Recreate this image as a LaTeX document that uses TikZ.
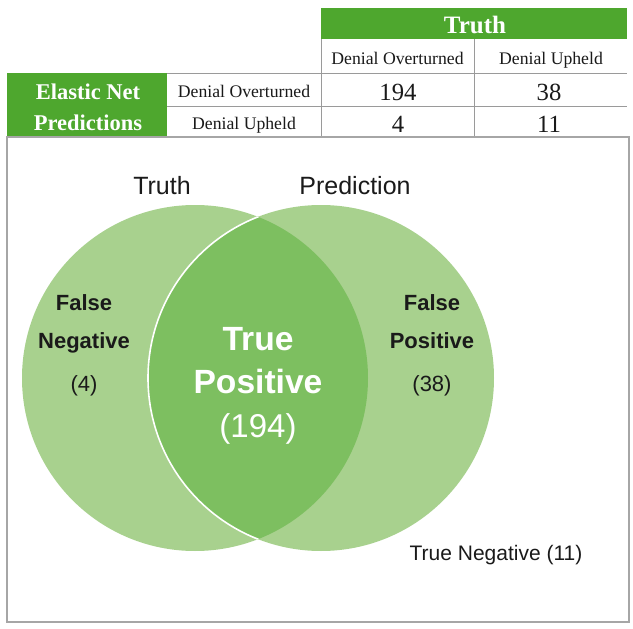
\documentclass[tikz,border=0pt]{standalone}
\usepackage{fontspec}
\setmainfont{Liberation Serif}
\newfontfamily\venn{Liberation Sans}
\definecolor{hdrgreen}{HTML}{4EA72E}
\definecolor{lightg}{HTML}{A8D18E}
\definecolor{darkg}{HTML}{7DBF60}
\definecolor{gridc}{HTML}{9A9A9A}
\definecolor{framec}{HTML}{A6A6A6}
\definecolor{txt}{HTML}{1A1A1A}
\tikzset{
  serif/.style={anchor=base, inner sep=0pt, text=txt, font=\fontsize{17.7}{20}\selectfont},
  num/.style={anchor=base, inner sep=0pt, text=txt, font=\fontsize{24.7}{28}\selectfont},
  hdr/.style={anchor=base, inner sep=0pt, text=white, font=\bfseries\fontsize{#1}{#1}\selectfont},
  lbl/.style={anchor=base, inner sep=0pt, text=txt, font=\venn\fontsize{#1}{#1}\selectfont},
  blbl/.style={anchor=base, inner sep=0pt, text=txt, font=\venn\bfseries\fontsize{#1}{#1}\selectfont},
  wlbl/.style={anchor=base, inner sep=0pt, text=white, font=\venn\fontsize{#1}{#1}\selectfont},
  wblbl/.style={anchor=base, inner sep=0pt, text=white, font=\venn\bfseries\fontsize{#1}{#1}\selectfont},
  gridline/.style={draw=gridc, line width=0.9pt},
}
\begin{document}
\begin{tikzpicture}[x=1pt,y=-1pt]
\useasboundingbox[fill=white] (0,0) rectangle (633,629);
% ---- table ----
\fill[hdrgreen] (321,8) rectangle (627,39);
\fill[hdrgreen] (7,73) rectangle (167,137);
\draw[gridline] (321,39) -- (321,137);
\draw[gridline] (474,39) -- (474,137);
\draw[gridline] (167,73) -- (627,73);
\draw[gridline] (167,106) -- (627,106);
\draw[draw=framec, line width=1.4pt] (7,137) rectangle (629,622);
\node[hdr=25] (truthh) at (475,33) {Truth};
\node[serif] (ch1) at (397.5,64) {Denial Overturned};
\node[serif] (ch2) at (551,64) {Denial Upheld};
\node[serif] (rh1) at (244,97) {Denial Overturned};
\node[serif] (rh2) at (244,129) {Denial Upheld};
\node[num] (c11) at (398,100) {194};
\node[num] (c12) at (549,100) {38};
\node[num] (c21) at (398,132) {4};
\node[num] (c22) at (549,132) {11};
\node[hdr=22.5] (en1) at (88,99) {Elastic Net};
\node[hdr=22.5] (en2) at (88,130) {Predictions};
% ---- venn ----
\coordinate (cl) at (195,378);
\coordinate (cr) at (321,378);
\fill[lightg] (cl) circle (173);
\fill[lightg] (cr) circle (173);
\begin{scope}
  \clip (cl) circle (173);
  \fill[darkg] (cr) circle (173);
\end{scope}
\begin{scope}
  \clip (cl) circle (173);
  \draw[white, line width=1.6pt] (cr) circle (173);
\end{scope}
\node[lbl=25] (tl) at (162,194) {Truth};
\node[lbl=25] (pl) at (355,194) {Prediction};
\node[blbl=22] (fn1) at (84,310) {False};
\node[blbl=22] (fn2) at (84,348) {Negative};
\node[lbl=22] (fn3) at (84,391) {(4)};
\node[blbl=22] (fp1) at (432,310) {False};
\node[blbl=22] (fp2) at (432,348) {Positive};
\node[lbl=22] (fp3) at (432,391) {(38)};
\node[wblbl=33.6] (tp1) at (258,350) {True};
\node[wblbl=33.6] (tp2) at (258,393) {Positive};
\node[wlbl=33] (tp3) at (258,437) {(194)};
\node[lbl=21] (tn) at (496,560) {True Negative (11)};
\end{tikzpicture}
\end{document}
